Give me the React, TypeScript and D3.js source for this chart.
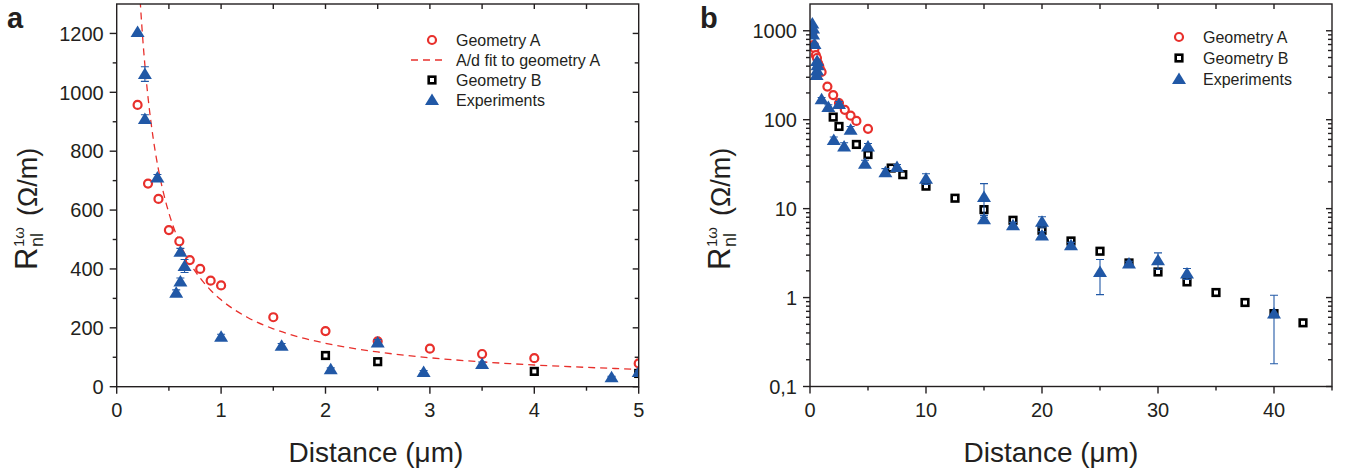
import React from "react";
import * as d3 from "d3";

// ---- panel a: linear scale, d <= 5 um ----
const geomADist = [0.2, 0.3, 0.4, 0.5, 0.6, 0.7, 0.8, 0.9, 1.0, 1.5, 2.0, 2.5, 3.0, 3.5, 4.0, 5.0];
const geomAR = [957, 690, 638, 532, 494, 430, 400, 360, 344, 236, 189, 154, 129, 111, 97, 79];

// A/d fit to geometry A
const fitA = 295;
const fitDist = [0.2, 0.22, 0.24, 0.26, 0.28, 0.3, 0.35, 0.4, 0.45, 0.5, 0.6, 0.7, 0.8, 0.9, 1, 1.25, 1.5, 1.75, 2, 2.5, 3, 3.5, 4, 4.5, 5];

const geomBDistA = [2.0, 2.5, 4.0, 5.0];
const geomBRA = [106, 85, 52, 45];

const expDistA = [0.2, 0.27, 0.27, 0.39, 0.57, 0.61, 0.61, 0.65, 1.0, 1.58, 2.05, 2.5, 2.94, 3.5, 4.74, 5.0];
const expRA = [1205, 1062, 909, 711, 319, 357, 458, 410, 170, 139, 59, 150, 50, 77, 32, 50];
const expErrA = [0, 25, 15, 10, 10, 12, 12, 22, 8, 8, 5, 10, 5, 7, 3, 4];

// ---- panel b: log scale, full range ----
const geomBDistB = [2.0, 2.5, 4.0, 5.0, 7.0, 8.0, 10, 12.5, 15, 17.5, 20, 22.5, 25, 27.5, 30, 32.5, 35, 37.5, 40, 42.5];
const geomBRB = [107, 84, 52.7, 40.6, 28.6, 24.1, 17.9, 13.1, 9.75, 7.4, 5.71, 4.33, 3.32, 2.45, 1.94, 1.5, 1.14, 0.88, 0.66, 0.52];

const expDistBExtra = [6.5, 7.5, 10, 15, 15, 17.5, 20, 20, 22.5, 25, 27.5, 30, 32.5, 40];
const expRBExtra = [25.7, 29.3, 21.7, 13.5, 7.6, 6.5, 7.1, 5.0, 3.87, 1.94, 2.41, 2.63, 1.86, 0.66];
const expErrLoBExtra = [2.5, 2, 3, 5.5, 0.8, 0.5, 1.0, 0.5, 0.3, 0.86, 0.15, 0.55, 0.26, 0.48];
const expErrHiBExtra = [2.5, 2, 3, 5.6, 0.8, 0.5, 1.0, 0.5, 0.3, 0.74, 0.15, 0.55, 0.26, 0.4];

// ticks
const xTicksA = [0, 1, 2, 3, 4, 5];
const yTicksA = [0, 200, 400, 600, 800, 1000, 1200];
const xTicksB = [0, 10, 20, 30, 40];
const yTicksB = [0.1, 1, 10, 100, 1000];
const yTickLabelsB = ["0,1", "1", "10", "100", "1000"];

const legendA = ["Geometry A", "A/d fit to geometry A", "Geometry B", "Experiments"];
const legendB = ["Geometry A", "Geometry B", "Experiments"];

const FONT = "'Liberation Sans', Arial, Helvetica, sans-serif";
const RED = "#e8302c";
const BLUE = "#2158a6";
const INK = "#231f20";

const triPath = "M0,-6.5 L7,5 L-7,5 Z";

const Circle = ({ x, y }: { x: number; y: number }) => (
    <circle cx={x} cy={y} r={4} fill="white" stroke={RED} strokeWidth={2.2} />
);
const Square = ({ x, y }: { x: number; y: number }) => (
    <rect x={x - 3.3} y={y - 3.3} width={6.6} height={6.6} fill="white" stroke="#000" strokeWidth={2.6} />
);
const Tri = ({ x, y }: { x: number; y: number }) => (
    <path transform={`translate(${x},${y})`} d={triPath} fill={BLUE} />
);

const ErrBar = ({ x, y0, y1 }: { x: number; y0: number; y1: number }) => (
    <g stroke={BLUE} strokeWidth={1.1}>
        <line x1={x} x2={x} y1={y0} y2={y1} />
        <line x1={x - 4} x2={x + 4} y1={y0} y2={y0} />
        <line x1={x - 4} x2={x + 4} y1={y1} y2={y1} />
    </g>
);

const YTitle = ({ x, y }: { x: number; y: number }) => (
    <g transform={`translate(${x},${y}) rotate(-90)`} fontFamily={FONT} fill={INK}>
        <text x={0} y={0} fontSize={31}>R</text>
        <text x={23} y={-13} fontSize={15}>1ω</text>
        <text x={23} y={6} fontSize={18}>nl</text>
        <text x={54} y={0} fontSize={27}>(Ω/m)</text>
    </g>
);

type Lin = d3.ScaleLinear<number, number>;

// frame with ticks on all sides
const Frame = (p: {
    x: Lin;
    y: any;
    xMajor: number[];
    xMinor: number[];
    xTop: number[];
    yMajor: number[];
    yMinor: number[];
    yLabels: string[];
}) => {
    const [l, r] = p.x.range();
    const [b, t] = p.y.range();
    return (
        <g stroke={INK} strokeWidth={1.4} fill="none">
            <rect x={l} y={t} width={r - l} height={b - t} />
            {p.xMajor.map((v) => (
                <line key={"xm" + v} x1={p.x(v)} x2={p.x(v)} y1={b} y2={b + 7} />
            ))}
            {p.xMinor.map((v) => (
                <line key={"xn" + v} x1={p.x(v)} x2={p.x(v)} y1={b} y2={b + 4} />
            ))}
            {p.xTop.map((v) => (
                <line key={"xt" + v} x1={p.x(v)} x2={p.x(v)} y1={t} y2={t + 5} />
            ))}
            {p.yMajor.map((v) => (
                <g key={"ym" + v}>
                    <line x1={l - 7} x2={l} y1={p.y(v)} y2={p.y(v)} />
                    <line x1={r - 6} x2={r} y1={p.y(v)} y2={p.y(v)} />
                </g>
            ))}
            {p.yMinor.map((v) => (
                <g key={"yn" + v}>
                    <line x1={l - 4} x2={l} y1={p.y(v)} y2={p.y(v)} />
                    <line x1={r - 4} x2={r} y1={p.y(v)} y2={p.y(v)} />
                </g>
            ))}
            <g stroke="none" fill={INK} fontFamily={FONT} fontSize={20}>
                {p.xMajor.map((v) => (
                    <text key={"xl" + v} x={p.x(v)} y={b + 30} textAnchor="middle">
                        {v}
                    </text>
                ))}
                {p.yMajor.map((v, i) => (
                    <text key={"yl" + v} x={l - 13} y={p.y(v)} dy="0.36em" textAnchor="end">
                        {p.yLabels[i]}
                    </text>
                ))}
            </g>
        </g>
    );
};

const App = () => {
    // scales
    const xA = d3.scaleLinear().domain([0, 5]).range([116.7, 638.7]);
    const yA = d3.scaleLinear().domain([0, 1300]).range([386.7, 4]);
    const xB = d3.scaleLinear().domain([0, 45]).range([810, 1332]);
    const yB = d3.scaleLog().domain([0.1, 2000]).range([386.5, 4]);

    const fitLine = d3
        .line<number>()
        .x((d) => xA(d))
        .y((d) => yA(fitA / d))
        .curve(d3.curveMonotoneX);

    const expDistB = expDistA.concat(expDistBExtra);
    const expRB = expRA.concat(expRBExtra);
    const expLoB = expErrA.concat(expErrLoBExtra);
    const expHiB = expErrA.concat(expErrHiBExtra);

    const minorA = d3.range(0.5, 5, 1);
    const topA = d3.range(0.5, 5, 0.5);
    const yMinorA = d3.range(100, 1300, 200);
    const minorB = d3.range(5, 46, 10);
    const topB = d3.range(5, 45, 5);
    const yMinorB: number[] = [];
    [0.1, 1, 10, 100, 1000].forEach((dec) => {
        [2, 3, 4, 5, 6, 7, 8, 9].forEach((m) => {
            if (dec * m < 2000) yMinorB.push(dec * m);
        });
    });

    return (
        <svg
            width={1351}
            height={476}
            viewBox="0 0 1351 476"
            style={{ position: "absolute", left: 0, top: 0, display: "block", background: "white" }}
        >
            <defs>
                <clipPath id="clipA">
                    <rect x={116.7} y={4} width={522} height={382.7} />
                </clipPath>
                <clipPath id="clipB">
                    <rect x={810} y={4} width={522} height={382.5} />
                </clipPath>
            </defs>

            {/* ---------- panel a ---------- */}
            <g clipPath="url(#clipA)">
                <path d={fitLine(fitDist) || ""} fill="none" stroke={RED} strokeWidth={1.3} strokeDasharray="7 5" />
                {geomADist.map((d, i) => (
                    <Circle key={"ca" + i} x={xA(d)} y={yA(geomAR[i])} />
                ))}
                {geomBDistA.map((d, i) => (
                    <Square key={"sa" + i} x={xA(d)} y={yA(geomBRA[i])} />
                ))}
                {expDistA.map((d, i) =>
                    expErrA[i] > 0 ? (
                        <ErrBar key={"ea" + i} x={xA(d)} y0={yA(expRA[i] - expErrA[i])} y1={yA(expRA[i] + expErrA[i])} />
                    ) : null,
                )}
                {expDistA.map((d, i) => (
                    <Tri key={"ta" + i} x={xA(d)} y={yA(expRA[i])} />
                ))}
            </g>
            <Frame
                x={xA}
                y={yA}
                xMajor={xTicksA}
                xMinor={minorA}
                xTop={topA}
                yMajor={yTicksA}
                yMinor={yMinorA}
                yLabels={yTicksA.map(String)}
            />

            {/* legend a */}
            <g fontFamily={FONT} fontSize={16} fill={INK}>
                <Circle x={432} y={40} />
                <line x1={411} x2={445} y1={60} y2={60} stroke={RED} strokeWidth={1.3} strokeDasharray="7 5" />
                <Square x={432} y={80} />
                <Tri x={432} y={100} />
                {legendA.map((t, i) => (
                    <text key={t} x={456} y={40 + i * 20} dy="0.36em">
                        {t}
                    </text>
                ))}
            </g>

            <text x={7} y={28} fontFamily={FONT} fontSize={29} fontWeight="bold" fill={INK}>
                a
            </text>
            <YTitle x={37} y={270} />
            <text x={376} y={462} textAnchor="middle" fontFamily={FONT} fontSize={28} fill={INK}>
                Distance (μm)
            </text>

            {/* ---------- panel b ---------- */}
            <g clipPath="url(#clipB)">
                {geomADist.map((d, i) => (
                    <Circle key={"cb" + i} x={xB(d)} y={yB(geomAR[i])} />
                ))}
                {geomBDistB.map((d, i) => (
                    <Square key={"sb" + i} x={xB(d)} y={yB(geomBRB[i])} />
                ))}
                {expDistB.map((d, i) =>
                    expHiB[i] > 0 ? (
                        <ErrBar
                            key={"eb" + i}
                            x={xB(d)}
                            y0={yB(Math.max(expRB[i] - expLoB[i], 0.11))}
                            y1={yB(expRB[i] + expHiB[i])}
                        />
                    ) : null,
                )}
                {expDistB.map((d, i) => (
                    <Tri key={"tb" + i} x={xB(d)} y={yB(expRB[i])} />
                ))}
            </g>
            <Frame
                x={xB}
                y={yB}
                xMajor={xTicksB}
                xMinor={minorB}
                xTop={topB}
                yMajor={yTicksB}
                yMinor={yMinorB}
                yLabels={yTickLabelsB}
            />

            {/* legend b */}
            <g fontFamily={FONT} fontSize={16} fill={INK}>
                <Circle x={1179} y={37} />
                <Square x={1179} y={58} />
                <Tri x={1179} y={79} />
                {legendB.map((t, i) => (
                    <text key={t} x={1203} y={37 + i * 21} dy="0.36em">
                        {t}
                    </text>
                ))}
            </g>

            <text x={700} y={28} fontFamily={FONT} fontSize={29} fontWeight="bold" fill={INK}>
                b
            </text>
            <YTitle x={730} y={270} />
            <text x={1051} y={462} textAnchor="middle" fontFamily={FONT} fontSize={28} fill={INK}>
                Distance (μm)
            </text>
        </svg>
    );
};

export default App;
